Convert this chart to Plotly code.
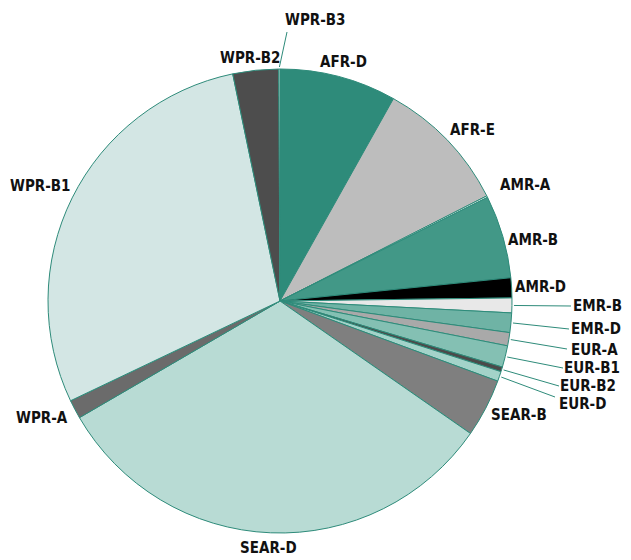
import math
import plotly.graph_objects as go

# ---- data ----
regions = ["AFR-D", "AFR-E", "AMR-A", "AMR-B", "AMR-D", "EMR-B", "EMR-D", "EUR-A",
           "EUR-B1", "EUR-B2", "EUR-D", "SEAR-B", "SEAR-D", "WPR-A", "WPR-B1",
           "WPR-B2", "WPR-B3"]
shares = [8.14, 9.39, 0.11, 5.78, 1.39, 1.03, 1.36, 0.92,
          1.50, 0.33, 0.69, 4.06, 31.97, 1.31, 28.83,
          3.19, 0.08]

# ---- style ----
colors = ["#2e8b7a", "#bdbdbd", "#ffffff", "#429887", "#000000", "#e8e8e8", "#6fb3a5", "#a9a9a9",
          "#84c0b3", "#4a4a4a", "#a3d3c9", "#7f7f7f", "#b8dbd4", "#6b6b6b", "#d3e6e4",
          "#4d4d4d", "#ffffff"]
TEAL = "#2e8b7a"
OFF = 8                      # page body margin of the html page
W, H = 631 - OFF, 560 - OFF
CX, CY, R = 280, 301, 232    # target pixel geometry in the window
FONT = dict(family="DejaVu Sans Condensed", weight="bold", size=15, color="#111111")

# label placement (window pixel coords of text centre); optional leader-line end point
label_pos = {
    "AFR-D": (343, 62, None), "AFR-E": (472, 130, None), "AMR-A": (525, 185, None),
    "AMR-B": (533, 240, None), "AMR-D": (540, 287, None),
    "EMR-B": (597, 306, (571, 306)), "EMR-D": (596, 329, (569, 329)),
    "EUR-A": (594, 350, (567, 349)), "EUR-B1": (592, 368, (563, 368)),
    "EUR-B2": (588, 386, (559, 386)), "EUR-D": (582, 404, (555, 397)),
    "SEAR-B": (519, 415, None), "SEAR-D": (268, 548, None), "WPR-A": (42, 418, None),
    "WPR-B1": (40, 186, None), "WPR-B2": (250, 58, None),
    "WPR-B3": (315, 20, (287, 32)),
}

px = lambda x: (x - OFF) / W
py = lambda y: 1 - (y - OFF) / H

fig = go.Figure(go.Pie(
    labels=regions, values=shares, sort=False, direction="clockwise", rotation=0,
    marker=dict(colors=colors, line=dict(color=TEAL, width=1)),
    textinfo="none", hoverinfo="label+percent", showlegend=False,
    domain=dict(x=[px(CX - R), px(CX + R)], y=[py(CY + R), py(CY - R)]),
))

total = sum(shares)
cum = 0.0
for name, v in zip(regions, shares):
    mid = (cum + v / 2) / total * 2 * math.pi
    cum += v
    tx, ty, lend = label_pos[name]
    fig.add_annotation(x=px(tx), y=py(ty), xref="paper", yref="paper", text=name,
                       showarrow=False, xanchor="center", yanchor="middle", font=FONT)
    if lend is not None:
        sx = CX + (R + 2) * math.sin(mid)
        sy = CY - (R + 2) * math.cos(mid)
        fig.add_shape(type="line", xref="paper", yref="paper",
                      x0=px(sx), y0=py(sy), x1=px(lend[0]), y1=py(lend[1]),
                      line=dict(color=TEAL, width=1))

fig.update_layout(width=W, height=H, margin=dict(l=0, r=0, t=0, b=0),
                  paper_bgcolor="white", plot_bgcolor="white")
fig.write_html("out.html")
